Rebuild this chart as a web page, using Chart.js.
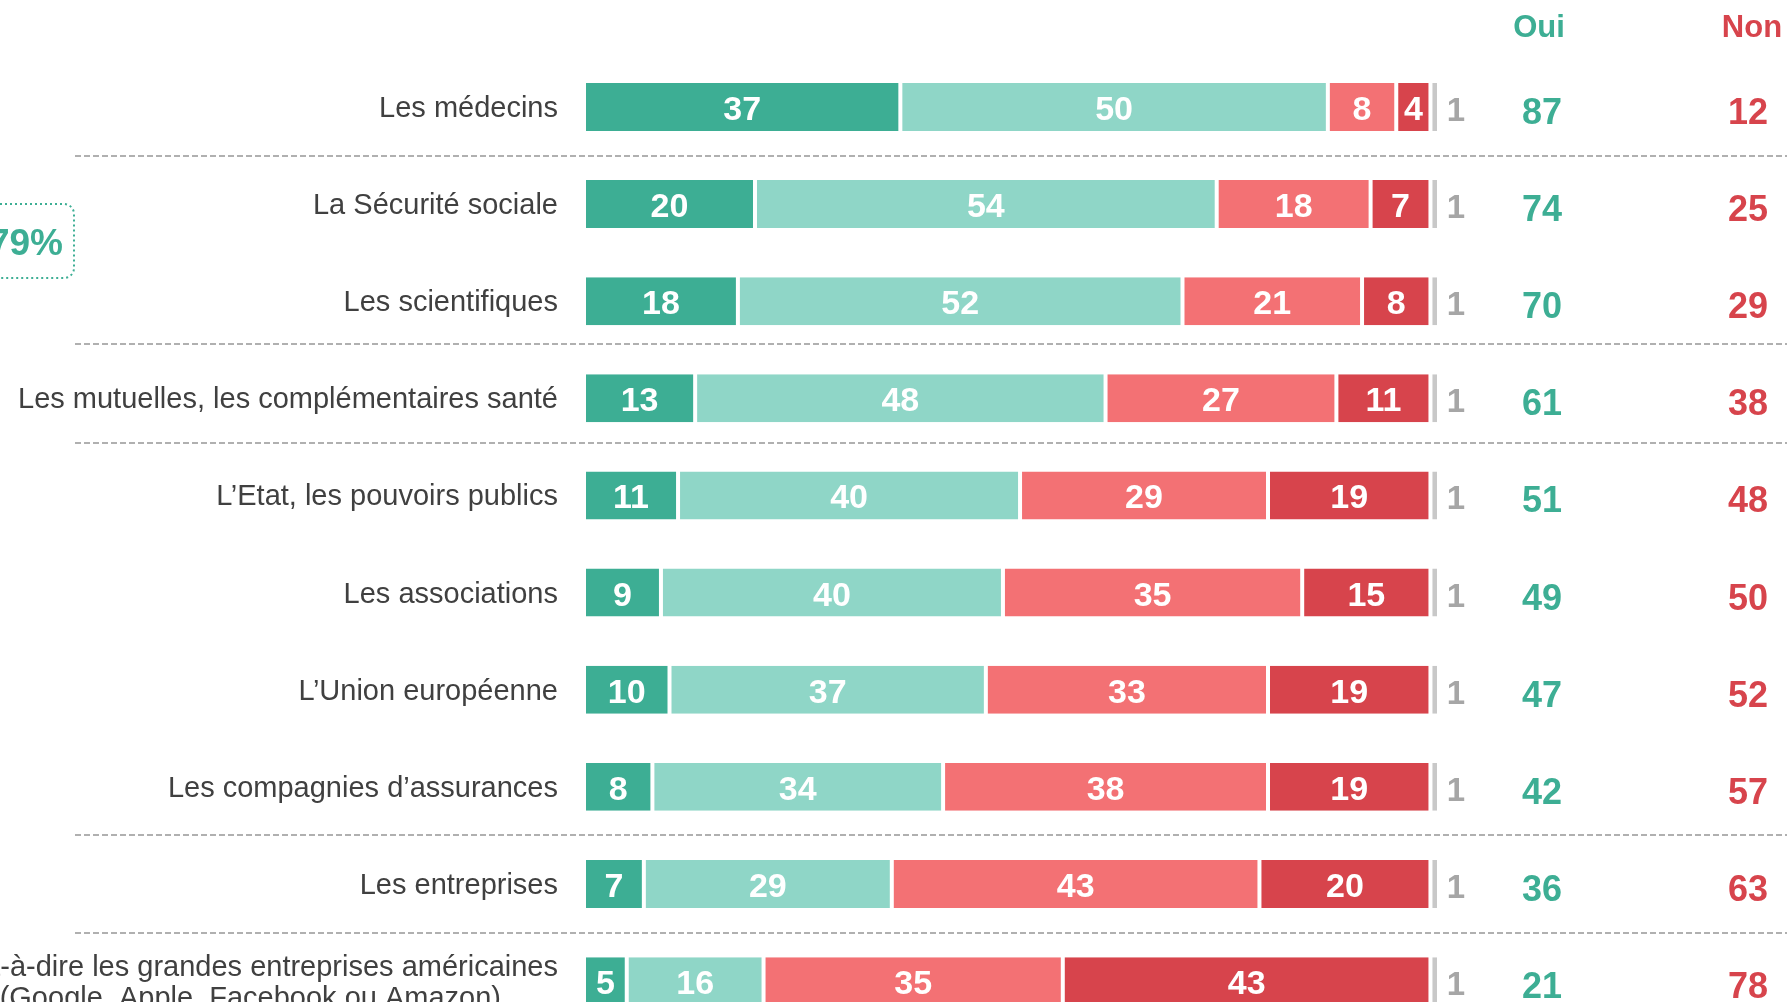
<!DOCTYPE html>
<html>
<head>
<meta charset="utf-8">
<script src="https://cdn.jsdelivr.net/npm/chart.js@4/dist/chart.umd.min.js"></script>
<style>
  html, body { margin: 0; padding: 0; background: #fff; overflow: hidden; }
  #wrap { position: absolute; left: 0; top: 0; width: 1787px; height: 1002px; overflow: hidden; }
</style>
</head>
<body>
<div id="wrap"><canvas id="chart" width="1787" height="1040"></canvas></div>
<script>
var categories = [
    'Les médecins',
    'La Sécurité sociale',
    'Les scientifiques',
    'Les mutuelles, les complémentaires santé',
    'L’Etat, les pouvoirs publics',
    'Les associations',
    'L’Union européenne',
    'Les compagnies d’assurances',
    'Les entreprises',
    ['Les GAFA, c’est-à-dire les grandes entreprises américaines', '(Google, Apple, Facebook ou Amazon)']
];
var tresConfiance = [37, 20, 18, 13, 11, 9, 10, 8, 7, 5];
var plutotConfiance = [50, 54, 52, 48, 40, 40, 37, 34, 29, 16];
var plutotPasConfiance = [8, 18, 21, 27, 29, 35, 33, 38, 43, 35];
var pasDuTout = [4, 7, 8, 11, 19, 15, 19, 19, 20, 43];
var nsp = [1, 1, 1, 1, 1, 1, 1, 1, 1, 1];
var totalOui = [87, 74, 70, 61, 51, 49, 47, 42, 36, 21];
var totalNon = [12, 25, 29, 38, 48, 50, 52, 57, 63, 78];
var separatorsAfter = [0, 2, 3, 7, 8];

var GREEN = '#3dae94', TEAL = '#8fd6c7', SALMON = '#f37174', RED = '#d7444c', GREY = '#c8c8c8';
var FONT = '"Liberation Sans", Arial, sans-serif';

function ds(label, data, color) {
    return {
        label: label,
        data: data,
        backgroundColor: color,
        borderColor: '#ffffff',
        borderWidth: { left: 2, right: 2, top: 0, bottom: 0 },
        borderSkipped: false,
        barPercentage: 0.494,
        categoryPercentage: 1
    };
}

var extras = {
    id: 'extras',
    afterDatasetsDraw: function(chart) {
        var ctx = chart.ctx;
        var y = chart.scales.y;
        ctx.save();

        // dashed separators (the two around "mutuelles" sit a bit higher in the original)
        var nudge = { 2: -6, 3: -4 };
        ctx.strokeStyle = '#b0b0b0';
        ctx.lineWidth = 2;
        ctx.setLineDash([6, 3]);
        separatorsAfter.forEach(function(i) {
            var yy = Math.round((y.getPixelForValue(i) + y.getPixelForValue(i + 1)) / 2 + (nudge[i] || 0));
            ctx.beginPath();
            ctx.moveTo(75, yy);
            ctx.lineTo(1787, yy);
            ctx.stroke();
        });
        ctx.setLineDash([]);

        // category labels
        ctx.fillStyle = '#404040';
        ctx.font = '29px ' + FONT;
        ctx.textAlign = 'right';
        ctx.textBaseline = 'alphabetic';
        categories.forEach(function(lab, i) {
            var cy = y.getPixelForValue(i);
            if (Array.isArray(lab)) {
                ctx.fillText(lab[0], 558, cy - 15.5 + 10);
                ctx.fillText(lab[1], 501, cy + 15.5 + 10);
            } else {
                ctx.fillText(lab, 558, cy + 10);
            }
        });

        // values inside bars
        ctx.textAlign = 'center';
        ctx.font = 'bold 34px ' + FONT;
        for (var d = 0; d < 4; d++) {
            var meta = chart.getDatasetMeta(d);
            meta.data.forEach(function(bar, i) {
                var v = chart.data.datasets[d].data[i];
                var cx = (bar.x + bar.base) / 2;
                ctx.fillStyle = '#ffffff';
                ctx.fillText(v, cx, bar.y + 13);
            });
        }

        // "ne se prononce pas" outside
        ctx.fillStyle = '#a6a6a6';
        ctx.font = 'bold 33px ' + FONT;
        chart.getDatasetMeta(4).data.forEach(function(bar, i) {
            ctx.fillText(nsp[i], 1456, bar.y + 14);
        });

        // totals
        ctx.font = 'bold 36px ' + FONT;
        categories.forEach(function(lab, i) {
            var cy = y.getPixelForValue(i);
            ctx.fillStyle = GREEN;
            ctx.fillText(totalOui[i], 1542, cy + 17);
            ctx.fillStyle = RED;
            ctx.fillText(totalNon[i], 1748, cy + 17);
        });

        // headers
        ctx.font = 'bold 31px ' + FONT;
        ctx.fillStyle = GREEN;
        ctx.fillText('Oui', 1539, 37);
        ctx.fillStyle = RED;
        ctx.fillText('Non', 1752, 37);

        // 79% call-out box
        ctx.strokeStyle = GREEN;
        ctx.lineWidth = 2;
        ctx.setLineDash([2, 3]);
        ctx.beginPath();
        ctx.roundRect(-30, 204, 104, 74, 10);
        ctx.stroke();
        ctx.setLineDash([]);
        ctx.fillStyle = GREEN;
        ctx.font = 'bold 37px ' + FONT;
        ctx.textAlign = 'right';
        ctx.fillText('79%', 63, 255);

        ctx.restore();
    }
};

new Chart(document.getElementById('chart').getContext('2d'), {
    type: 'bar',
    data: {
        labels: categories,
        datasets: [
            ds('Très confiance', tresConfiance, GREEN),
            ds('Plutôt confiance', plutotConfiance, TEAL),
            ds('Plutôt pas confiance', plutotPasConfiance, SALMON),
            ds('Pas du tout confiance', pasDuTout, RED),
            ds('Ne se prononce pas', nsp, GREY)
        ]
    },
    options: {
        indexAxis: 'y',
        responsive: false,
        animation: false,
        devicePixelRatio: 1,
        layout: { padding: { left: 584, right: 348, top: 58.4, bottom: 10.3 } },
        plugins: {
            legend: { display: false },
            tooltip: { enabled: false }
        },
        scales: {
            x: { type: 'linear', stacked: true, min: 0, max: 100, display: false },
            y: { type: 'category', stacked: true, display: false, grid: { display: false } }
        }
    },
    plugins: [extras]
});
</script>
</body>
</html>
